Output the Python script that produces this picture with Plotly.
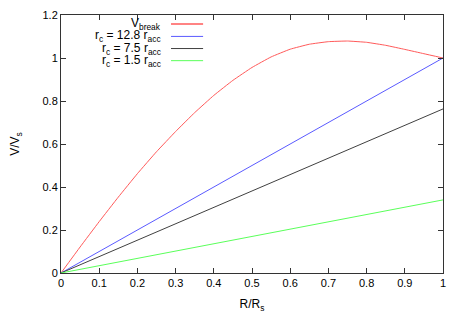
import plotly.graph_objects as go

# R/R_s sample points and the curves
r_over_rs = [0.0, 0.05, 0.1, 0.15, 0.2, 0.25, 0.3, 0.35, 0.4, 0.45, 0.5,
             0.55, 0.6, 0.65, 0.7, 0.75, 0.8, 0.85, 0.9, 0.95, 1.0]
v_break = [0.0, 0.121, 0.239, 0.353, 0.462, 0.564, 0.658, 0.746, 0.826, 0.896, 0.956,
           1.005, 1.041, 1.064, 1.076, 1.079, 1.073, 1.059, 1.04, 1.02, 1.0]

line_x = [0.0, 1.0]
v_rc_12_8 = [0.0, 1.0]
v_rc_7_5 = [0.0, 0.763]
v_rc_1_5 = [0.0, 0.34]

series_names = ["V<sub>break</sub>",
                "r<sub>c</sub> = 12.8 r<sub>acc</sub>",
                "r<sub>c</sub> = 7.5 r<sub>acc</sub>",
                "r<sub>c</sub> = 1.5 r<sub>acc</sub>"]
series_colors = ["#ff5a5a", "#5a5aff", "#404040", "#5aff5a"]

x_ticks = [0, 0.1, 0.2, 0.3, 0.4, 0.5, 0.6, 0.7, 0.8, 0.9, 1]
y_ticks = [0, 0.2, 0.4, 0.6, 0.8, 1, 1.2]

FONT = "Liberation Sans, Arial, sans-serif"

fig = go.Figure()

series = [(r_over_rs, v_break), (line_x, v_rc_12_8), (line_x, v_rc_7_5), (line_x, v_rc_1_5)]
for (xs, ys), name, color in zip(series, series_names, series_colors):
    fig.add_trace(go.Scatter(x=xs, y=ys, mode="lines", name=name,
                             line=dict(color=color, width=1, shape="spline", smoothing=0.3),
                             showlegend=False))

# gnuplot style key: right aligned text, line sample to its right
key_rows = [0.965, 0.917, 0.870, 0.823]
for name, color, ky in zip(series_names, series_colors, key_rows):
    fig.add_annotation(x=0.267, y=ky, xref="paper", yref="paper", text=name,
                       showarrow=False, xanchor="right", yanchor="middle",
                       font=dict(family=FONT, size=12, color="black"))
    fig.add_shape(type="line", xref="paper", yref="paper",
                  x0=0.288, x1=0.372, y0=ky, y1=ky,
                  line=dict(color=color, width=1.5 if ky == key_rows[0] else 1))

axis_common = dict(showline=True, linecolor="#333333", linewidth=1, mirror="ticks",
                   ticks="inside", ticklen=5, tickcolor="#333333", showgrid=False,
                   zeroline=False, automargin=False,
                   tickfont=dict(family=FONT, size=11, color="black"))

# the page body adds an 8px offset, so the figure is a bit smaller than the window
fig.update_layout(
    width=457, height=317,
    margin=dict(l=53, r=22, t=7, b=52),
    plot_bgcolor="white", paper_bgcolor="white",
    xaxis=dict(range=[0, 1], tickvals=x_ticks, ticktext=[f"{v:g}" for v in x_ticks],
               title=dict(text="R/R<sub>s</sub>", font=dict(family=FONT, size=12, color="black"),
                          standoff=11),
               **axis_common),
    yaxis=dict(range=[0, 1.2], tickvals=y_ticks, ticktext=[f"{v:g}" for v in y_ticks],
               title=dict(text="V/V<sub>s</sub>", font=dict(family=FONT, size=12, color="black"),
                          standoff=31),
               **axis_common),
)

fig.write_html("out.html")
